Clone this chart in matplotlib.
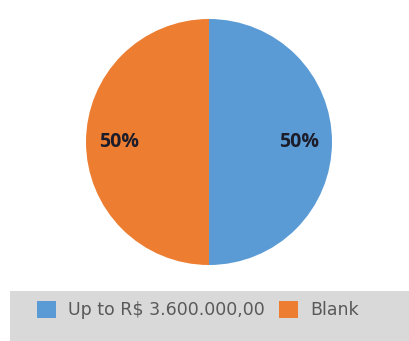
import matplotlib
matplotlib.use("Agg")
import matplotlib.pyplot as plt
from matplotlib.patches import Rectangle, Patch

categories = ["Up to R$ 3.600.000,00", "Blank"]
values = [50, 50]
colors = ["#5B9BD5", "#ED7D31"]

W, H = 410, 341
fig = plt.figure(figsize=(W / 100, H / 100), dpi=100)
fig.patch.set_facecolor("white")

# pie area: centre (209, 142) px, radius 123 px
cx, cy, r = 209, 142, 123
ax = fig.add_axes([(cx - r) / W, (H - cy - r) / H, 2 * r / W, 2 * r / H])
wedges, texts, autotexts = ax.pie(
    values, colors=colors, startangle=90, counterclock=False,
    autopct=lambda p: f"{p:.0f}%", pctdistance=0.73, radius=1.0,
    wedgeprops=dict(linewidth=0),
    textprops=dict(fontsize=14, fontweight="bold", color="#1c1c2a",
                   family=["Open Sans", "DejaVu Sans"]),
)
ax.set_xlim(-1.0, 1.0)
ax.set_ylim(-1.0, 1.0)
ax.set_aspect("equal")
ax.axis("off")

# legend band
band = Rectangle((10 / W, 0), 1 - 10 / W, (H - 291) / H, transform=fig.transFigure,
                 facecolor="#d9d9d9", edgecolor="none", zorder=0)
fig.patches.append(band)

handles = [Patch(facecolor=c, edgecolor="none") for c in colors]
leg = fig.legend(handles, categories, loc="center", bbox_to_anchor=(198 / W, 1 - 310 / H),
                 ncol=2, frameon=False, handlelength=1.1, handleheight=1.1,
                 handletextpad=0.7, columnspacing=0.8,
                 prop=dict(family=["DejaVu Sans"], size=12.5))
for t in leg.get_texts():
    t.set_color("#595959")

fig.savefig("out.png", dpi=100)
